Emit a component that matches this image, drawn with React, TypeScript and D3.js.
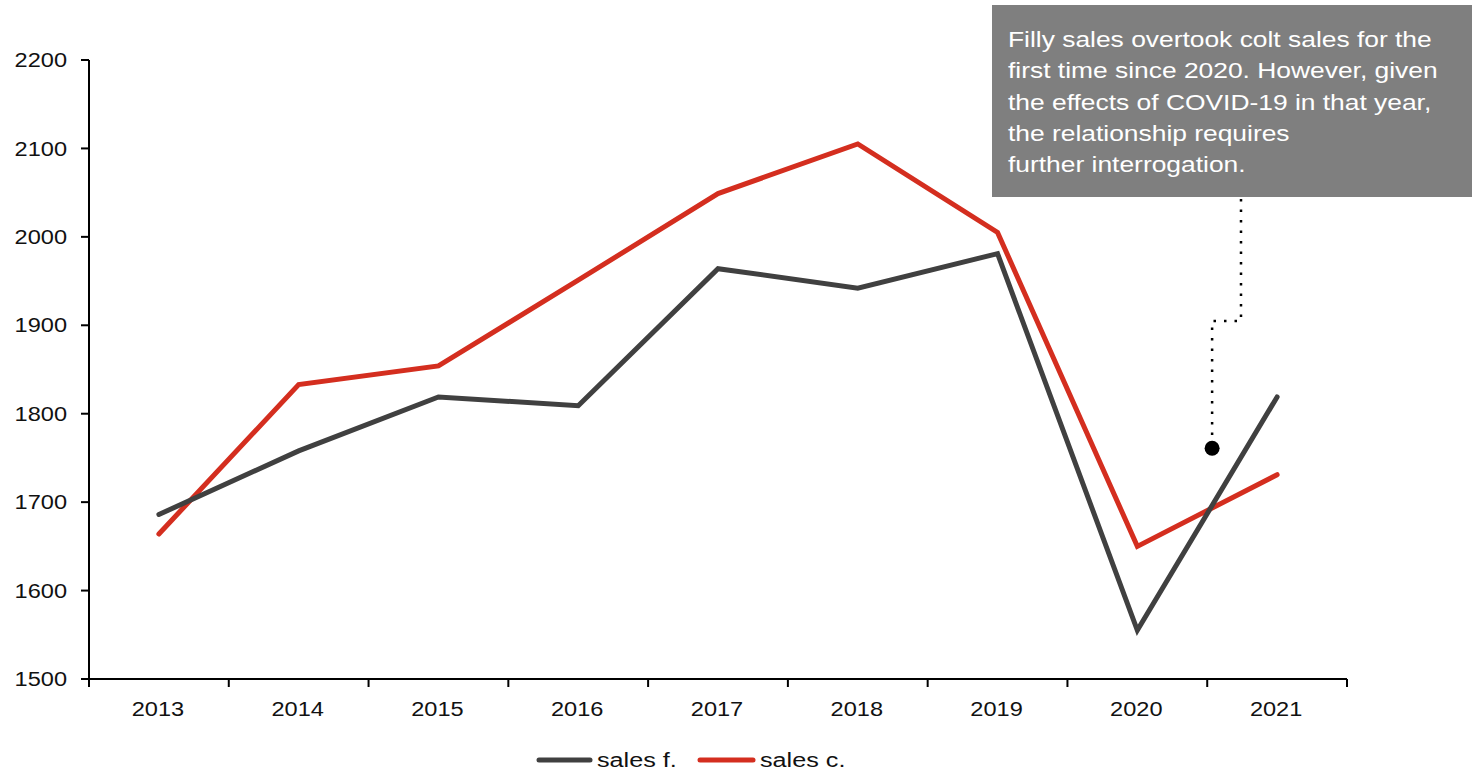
import * as d3 from "d3";

const years = ["2013", "2014", "2015", "2016", "2017", "2018", "2019", "2020", "2021"];
const salesF = [1686, 1758, 1819, 1809, 1964, 1942, 1981, 1555, 1819];
const salesC = [1664, 1833, 1854, 1951, 2049, 2105, 2005, 1650, 1731];
const yTicks = [1500, 1600, 1700, 1800, 1900, 2000, 2100, 2200];
const noteLines = [
  "Filly sales overtook colt sales for the",
  "first time since 2020. However, given",
  "the effects of COVID-19 in that year,",
  "the relationship requires",
  "further interrogation.",
];

const W = 1472;
const H = 771;
const margin = { top: 60, right: 125, bottom: 92, left: 89 };
const font = "'Liberation Sans', Arial, sans-serif";

// the source renders its text slightly wide, so stretch horizontally
function Label(props: {
  x: number;
  y: number;
  size: number;
  sx?: number;
  anchor?: "start" | "middle" | "end";
  fill?: string;
  dy?: string;
  children: React.ReactNode;
}) {
  const { x, y, size, sx = 1.17, anchor = "start", fill = "#111", dy, children } = props;
  return (
    <text
      transform={`translate(${x},${y}) scale(${sx},1)`}
      textAnchor={anchor}
      dy={dy}
      fontFamily={font}
      fontSize={size}
      fill={fill}
    >
      {children}
    </text>
  );
}

export default function App() {
  const x = d3
    .scaleBand<string>()
    .domain(years)
    .range([margin.left, W - margin.right]);
  const y = d3
    .scaleLinear()
    .domain([1500, 2200])
    .range([H - margin.bottom, margin.top]);

  const cx = (i: number) => (x(years[i]) as number) + x.bandwidth() / 2;
  const line = d3
    .line<number>()
    .x((_, i) => cx(i))
    .y((d) => y(d));

  const x0 = margin.left;
  const y0 = y(1500);
  const boundaries = years.map((yr) => x(yr) as number).concat([W - margin.right]);

  // annotation pointer
  const dotX = cx(7) + x.bandwidth() * 0.535;
  const dotY = y(1761);
  const elbowY = 321;
  const boxX = 992;
  const boxY = 5;
  const boxBottom = 197;
  const stemX = 1241;

  return (
    <div style={{ position: "absolute", left: 0, top: 0 }}>
      <svg width={W} height={H} style={{ display: "block", background: "#fff" }}>
        {/* y axis */}
        <line x1={x0} x2={x0} y1={y(2200)} y2={y0} stroke="#000" strokeWidth={2} />
        {yTicks.map((t) => (
          <g key={t}>
            <line x1={x0 - 8} x2={x0} y1={y(t)} y2={y(t)} stroke="#000" strokeWidth={2} />
            <Label x={x0 - 22} y={y(t)} dy="0.35em" anchor="end" size={20.5} sx={1.15}>
              {t}
            </Label>
          </g>
        ))}

        {/* x axis */}
        <line x1={x0} x2={W - margin.right} y1={y0} y2={y0} stroke="#000" strokeWidth={2} />
        {boundaries.map((b, i) => (
          <line key={i} x1={b} x2={b} y1={y0} y2={y0 + 8} stroke="#000" strokeWidth={2} />
        ))}
        {years.map((yr, i) => (
          <Label key={yr} x={cx(i) - 1} y={y0 + 37} anchor="middle" size={20.5} sx={1.15}>
            {yr}
          </Label>
        ))}

        {/* series */}
        <path d={line(salesC) || ""} fill="none" stroke="#d42e1f" strokeWidth={5} strokeLinecap="round" />
        <path d={line(salesF) || ""} fill="none" stroke="#404040" strokeWidth={5} strokeLinecap="round" />

        {/* annotation */}
        <path
          d={`M${stemX},${boxBottom + 2} V${elbowY} H${dotX} V${dotY - 8}`}
          fill="none"
          stroke="#000"
          strokeWidth={2.5}
          strokeDasharray="2.5 8"
        />
        <circle cx={dotX} cy={dotY} r={7.5} fill="#000" />
        <rect x={boxX} y={boxY} width={W - boxX} height={boxBottom - boxY} fill="#7f7f7f" />
        {noteLines.map((l, i) => (
          <Label key={i} x={1008} y={47 + i * 31.3} size={22} sx={1.2} fill="#fff">
            {l}
          </Label>
        ))}

        {/* legend */}
        <line x1={539} x2={590} y1={760} y2={760} stroke="#404040" strokeWidth={5} strokeLinecap="round" />
        <Label x={597} y={767} size={21} sx={1.2}>
          sales f.
        </Label>
        <line x1={700} x2={753} y1={760} y2={760} stroke="#d42e1f" strokeWidth={5} strokeLinecap="round" />
        <Label x={760} y={767} size={21} sx={1.2}>
          sales c.
        </Label>
      </svg>
    </div>
  );
}
